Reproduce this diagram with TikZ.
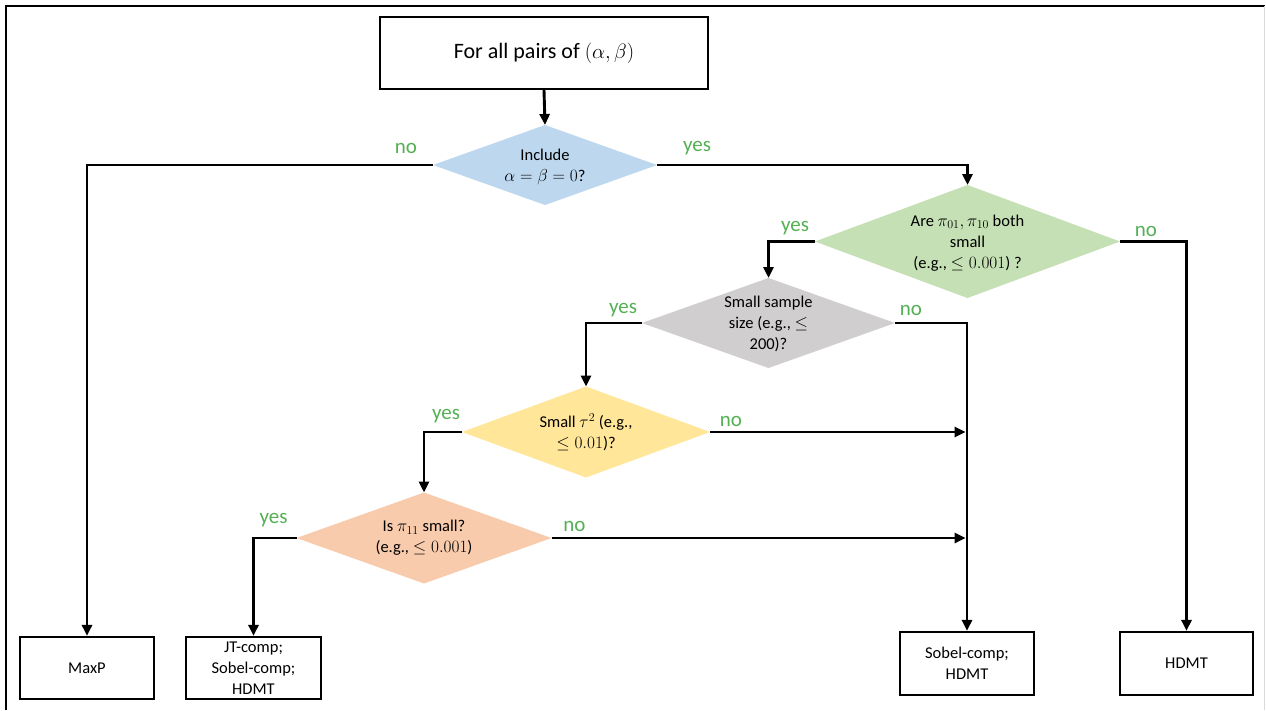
\documentclass[tikz,border=0pt]{standalone}
\usepackage{fontspec}
\setmainfont{Carlito}
\usetikzlibrary{shapes.geometric,arrows.meta,calc}
\definecolor{blueC}{RGB}{189,215,238}
\definecolor{greenC}{RGB}{197,224,180}
\definecolor{grayC}{RGB}{208,206,206}
\definecolor{yellowC}{RGB}{255,230,153}
\definecolor{orangeC}{RGB}{248,203,173}
\definecolor{labgreen}{RGB}{84,176,84}
\begin{document}
\begin{tikzpicture}[x=1pt,y=-1pt,
  dia/.style={diamond, inner sep=0pt, outer sep=0pt},
  diatext/.style={inner sep=0pt, align=center, font=\fontsize{16.5}{21}\selectfont},
  box/.style={draw, line width=2.2pt, rectangle, inner sep=0pt, align=center, font=\fontsize{16.5}{21}\selectfont},
  lab/.style={text=labgreen, font=\fontsize{21}{24}\selectfont, inner sep=0pt},
  arr/.style={line width=2.9pt, -{Triangle[length=11pt,width=10pt]}}]
\useasboundingbox (0,0) rectangle (1266,710);
\fill[white] (0,0) rectangle (1266,710);
% frame
\draw[line width=2.2pt] (6,710) -- (6,6) -- (1265,6);
\draw[line width=1pt, black!15] (1264,6) -- (1264,710);
% nodes
\node[box, minimum width=328pt, minimum height=72pt, font=\fontsize{22}{26}\selectfont] (top) at (544,53) {For all pairs of $(\alpha,\beta)$};
\node[dia, fill=blueC, minimum width=224pt, minimum height=80pt] (d1) at (545,165) {};
\node[diatext] (d1t) at (545,167) {Include\\ $\alpha=\beta=0$?};
\node[dia, fill=greenC, minimum width=305pt, minimum height=113pt] (d2) at (967.5,241.5) {};
\node[diatext] (d2t) at (967.5,243) {Are $\pi_{01},\pi_{10}$ both\\ small\\ (e.g., $\leq 0.001$) ?};
\node[dia, fill=grayC, minimum width=253pt, minimum height=90pt] (d3) at (768.5,323) {};
\node[diatext] (d3t) at (768.5,324) {Small sample\\ size (e.g., $\leq$\\ 200)?};
\node[dia, fill=yellowC, minimum width=248pt, minimum height=91pt] (d4) at (586,432) {};
\node[diatext] (d4t) at (586,432) {Small $\tau^2$ (e.g.,\\ $\leq 0.01$)?};
\node[dia, fill=orangeC, minimum width=255pt, minimum height=91pt] (d5) at (424,538) {};
\node[diatext] (d5t) at (424,538) {Is $\pi_{11}$ small?\\ (e.g., $\leq 0.001$)};
\node[box, minimum width=134pt, minimum height=62pt] (maxp) at (87,668) {MaxP};
\node[box, minimum width=135pt, minimum height=62pt] (jt) at (253.5,668) {JT-comp;\\ Sobel-comp;\\ HDMT};
\node[box, minimum width=134pt, minimum height=63pt] (sobel) at (967,663.5) {Sobel-comp;\\ HDMT};
\node[box, minimum width=133pt, minimum height=63pt] (hdmt) at (1186.5,663.5) {HDMT};
% connectors
\draw[arr] (top.south) -- (d1.north);
\draw[arr] (d1.west) -| (maxp.north);
\draw[arr] (d1.east) -| (d2.north);
\draw[arr] (d2.west) -| (d3.north);
\draw[arr] (d2.east) -| (hdmt.north);
\draw[arr] (d3.west) -| (d4.north);
\draw[arr] (d3.east) -| (sobel.north);
\draw[arr] (d4.west) -| (d5.north);
\draw[arr] (d5.west) -| (jt.north);
\coordinate (j4) at (sobel.north |- d4.east);
\coordinate (j5) at (sobel.north |- d5.east);
\draw[arr, shorten >=1.4pt] (d4.east) -- (j4);
\draw[arr, shorten >=1.4pt] (d5.east) -- (j5);
% labels
\node[lab] (l1n) at ($(d1.west)+(-27,-17)$) {no};
\node[lab] (l1y) at ($(d1.east)+(40,-17)$) {yes};
\node[lab] (l2y) at ($(d2.west)+(-20,-13)$) {yes};
\node[lab] (l2n) at ($(d2.east)+(26,-10)$) {no};
\node[lab] (l3y) at ($(d3.west)+(-19,-13)$) {yes};
\node[lab] (l3n) at ($(d3.east)+(16,-13)$) {no};
\node[lab] (l4y) at ($(d4.west)+(-16,-16)$) {yes};
\node[lab] (l4n) at ($(d4.east)+(21,-11)$) {no};
\node[lab] (l5y) at ($(d5.west)+(-23,-18)$) {yes};
\node[lab] (l5n) at ($(d5.east)+(23,-12)$) {no};
\end{tikzpicture}
\end{document}
